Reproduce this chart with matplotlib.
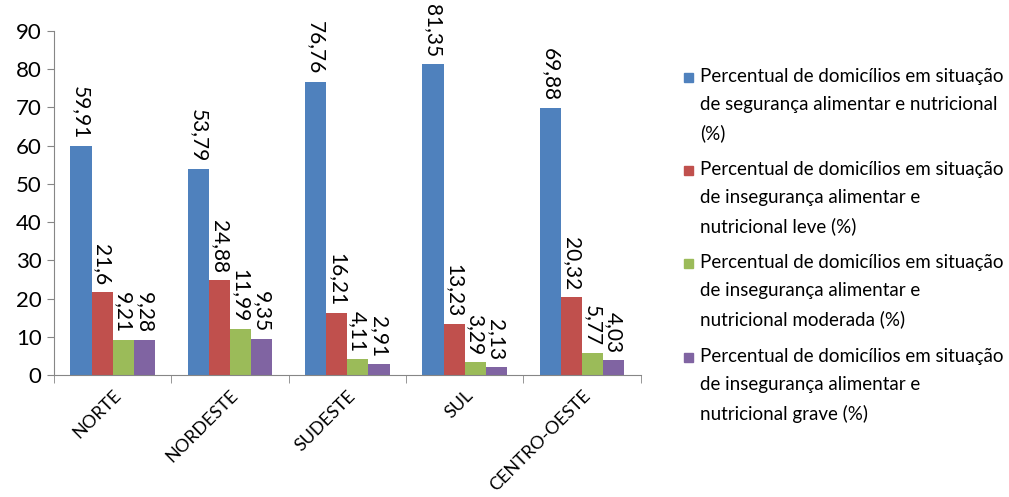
import numpy as np
import matplotlib.pyplot as plt
from matplotlib.patches import Rectangle

plt.rcParams['font.family'] = ['Lato', 'DejaVu Sans']

# --- Data ---
regioes = ['NORTE', 'NORDESTE', 'SUDESTE', 'SUL', 'CENTRO-OESTE']
seguranca = [59.91, 53.79, 76.76, 81.35, 69.88]
inseg_leve = [21.6, 24.88, 16.21, 13.23, 20.32]
inseg_moderada = [9.21, 11.99, 4.11, 3.29, 5.77]
inseg_grave = [9.28, 9.35, 2.91, 2.13, 4.03]

series_labels = [
    'Percentual de domicílios em situação\nde segurança alimentar e nutricional\n(%)',
    'Percentual de domicílios em situação\nde insegurança alimentar e\nnutricional leve (%)',
    'Percentual de domicílios em situação\nde insegurança alimentar e\nnutricional moderada (%)',
    'Percentual de domicílios em situação\nde insegurança alimentar e\nnutricional grave (%)',
]
colors = ['#4F81BD', '#C0504D', '#9BBB59', '#8064A2']

series = [seguranca, inseg_leve, inseg_moderada, inseg_grave]

# --- Plot ---
fig = plt.figure(figsize=(10.09, 4.97), dpi=100)
ax = fig.add_axes([0.0535, 0.2455, 0.5815, 0.692])

x = np.arange(len(regioes))
bw = 0.18
for i, (vals, c) in enumerate(zip(series, colors)):
    pos = x + (i - 1.5) * bw
    ax.bar(pos, vals, width=bw, color=c, edgecolor='none', zorder=2)
    for p, v in zip(pos, vals):
        ax.annotate(f'{v:g}'.replace('.', ','), xy=(p, v), xytext=(0, 5),
                    textcoords='offset points', rotation=270,
                    ha='center', va='bottom', fontsize=15, color='black')

ax.set_xlim(-0.5, len(regioes) - 0.5)
ax.set_ylim(0, 90)
ax.set_yticks(range(0, 91, 10))
ax.tick_params(axis='y', labelsize=16, length=5, color='#868686', pad=4)

ax.set_xticks(x)
ax.set_xticklabels(regioes, rotation=45, ha='right', rotation_mode='anchor', fontsize=13)
ax.set_xticks(np.arange(-0.5, len(regioes)), minor=True)
ax.tick_params(axis='x', which='major', length=0, pad=9)
ax.tick_params(axis='x', which='minor', length=6, color='#868686')

for s in ['top', 'right']:
    ax.spines[s].set_visible(False)
for s in ['left', 'bottom']:
    ax.spines[s].set_color('#868686')

# --- Legend (drawn by hand so the marker sits on the first line) ---
leg_y = [77, 170, 263, 357]
for yy, lab, c in zip(leg_y, series_labels, colors):
    yf = 1 - yy / 497
    fig.patches.append(Rectangle((684 / 1009, yf - 4.5 / 497), 9 / 1009, 9 / 497,
                                 transform=fig.transFigure, color=c))
    fig.text(700 / 1009, yf + 9 / 497, lab, fontsize=13.5, va='top', ha='left',
             linespacing=1.78)

fig.savefig('out.png', dpi=100)
